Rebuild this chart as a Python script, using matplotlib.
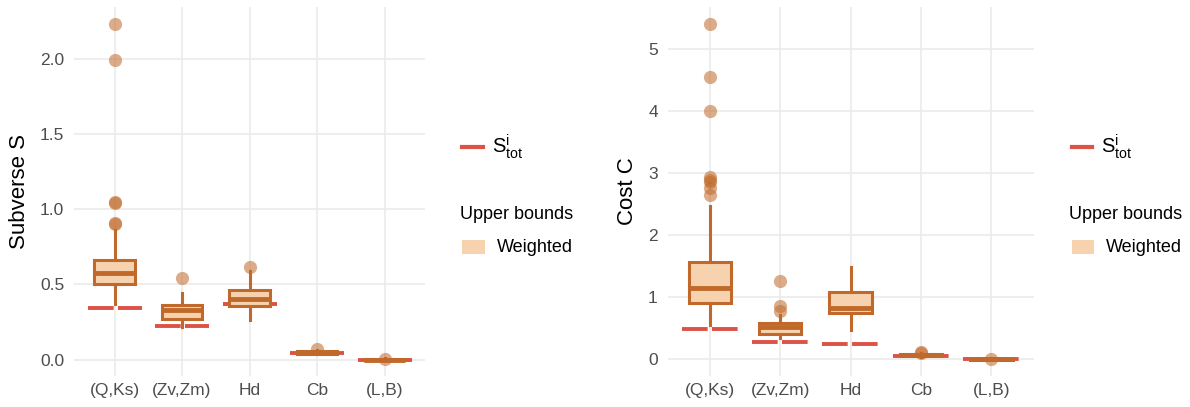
import matplotlib
matplotlib.use("Agg")
import matplotlib.pyplot as plt
from matplotlib.lines import Line2D
from matplotlib.patches import Rectangle

plt.rcParams["font.family"] = ["Liberation Sans", "DejaVu Sans"]
plt.rcParams["mathtext.fontset"] = "custom"
plt.rcParams["mathtext.rm"] = "Liberation Sans"
plt.rcParams["mathtext.it"] = "Liberation Sans"

# Categories
categorias = ["(Q,Ks)", "(Zv,Zm)", "Hd", "Cb", "(L,B)"]

# Panel izquierdo: Subverse S (resumen de boxplot)
s_q1 = [0.50, 0.27, 0.355, 0.040, -0.004]
s_med = [0.577, 0.33, 0.405, 0.050, 0.000]
s_q3 = [0.66, 0.36, 0.46, 0.058, 0.005]
s_wlo = [0.37, 0.215, 0.26, 0.035, -0.006]
s_whi = [0.86, 0.44, 0.59, 0.064, 0.007]
s_fliers = [[2.23, 1.99, 1.04, 1.045, 0.91, 0.90], [0.545], [0.615], [0.072], [0.002]]
s_tot = [0.34, 0.226, 0.366, 0.045, 0.0]

# Panel derecho: Cost C
c_q1 = [0.90, 0.40, 0.74, 0.05, -0.006]
c_med = [1.15, 0.52, 0.82, 0.065, 0.002]
c_q3 = [1.57, 0.576, 1.08, 0.08, 0.010]
c_wlo = [0.55, 0.34, 0.47, 0.035, -0.01]
c_whi = [2.47, 0.72, 1.48, 0.10, 0.015]
c_fliers = [[5.40, 4.54, 4.0, 2.94, 2.89, 2.85, 2.75, 2.65], [1.26, 0.85, 0.78], [], [0.11, 0.10], [0.005]]
c_tot = [0.48, 0.28, 0.25, 0.06, 0.0]

EDGE = "#c0692a"
FILL = "#f6d2ae"
RED = "#dc5345"
GRID = "#ebebeb"


def dibujar_panel(ax, q1, med, q3, wlo, whi, fliers, tot, ylabel, yticks, yticklabels):
    stats = []
    for i in range(len(categorias)):
        stats.append(dict(med=med[i], q1=q1[i], q3=q3[i], whislo=wlo[i],
                          whishi=whi[i], fliers=fliers[i], label=categorias[i]))
    pos = list(range(1, len(categorias) + 1))
    ax.hlines(tot, [p - 0.4 for p in pos], [p + 0.4 for p in pos], colors=RED,
              linewidth=2.8, linestyles=(0, (6.6, 1.1)), zorder=2.5, capstyle="butt")
    ax.bxp(stats, positions=pos, widths=0.6, patch_artist=True, showcaps=False,
           boxprops=dict(facecolor=FILL, edgecolor=EDGE, linewidth=2.2),
           medianprops=dict(color=EDGE, linewidth=3.5, solid_capstyle="butt"),
           whiskerprops=dict(color=EDGE, linewidth=2.2),
           flierprops=dict(marker="o", markerfacecolor=EDGE, markeredgecolor="none",
                           alpha=0.55, markersize=9.5), zorder=3)
    ax.set_xlim(0.4, 5.6)
    ax.set_yticks(yticks)
    ax.set_yticklabels(yticklabels)
    ax.set_ylabel(ylabel, fontsize=16, labelpad=7)
    ax.tick_params(axis="y", length=0, labelsize=12.5, labelcolor="#4d4d4d", pad=7)
    ax.tick_params(axis="x", length=0, labelsize=12.5, labelcolor="#4d4d4d", pad=5)
    ax.grid(True, color=GRID, linewidth=1.2, zorder=0)
    ax.set_axisbelow(True)
    for s in ax.spines.values():
        s.set_visible(False)


def leyenda(fig, x0, y_line, y_title, y_patch):
    fig.add_artist(Line2D([x0, x0 + 0.017], [y_line, y_line], transform=fig.transFigure,
                          color=RED, linewidth=3))
    fig.text(x0 + 0.025, y_line, r"$\mathrm{S}^{\mathrm{i}}_{\mathrm{tot}}$",
             fontsize=14.5, va="center", ha="left")
    fig.text(x0 - 0.002, y_title, "Upper bounds", fontsize=13, va="center", ha="left")
    fig.add_artist(Rectangle((x0, y_patch - 0.017), 0.019, 0.034, transform=fig.transFigure,
                             facecolor=FILL, edgecolor="none"))
    fig.text(x0 + 0.029, y_patch, "Weighted", fontsize=13, va="center", ha="left")


fig = plt.figure(figsize=(11.9, 4.07), dpi=100)
ax1 = fig.add_axes([0.0622, 0.076, 0.295, 0.907])
ax2 = fig.add_axes([0.561, 0.076, 0.3076, 0.907])

dibujar_panel(ax1, s_q1, s_med, s_q3, s_wlo, s_whi, s_fliers, s_tot, "Subverse S",
              [0.0, 0.5, 1.0, 1.5, 2.0], ["0.0", "0.5", "1.0", "1.5", "2.0"])
ax1.set_ylim(-0.11, 2.345)
dibujar_panel(ax2, c_q1, c_med, c_q3, c_wlo, c_whi, c_fliers, c_tot, "Cost C",
              [0, 1, 2, 3, 4, 5], ["0", "1", "2", "3", "4", "5"])
ax2.set_ylim(-0.27, 5.67)

leyenda(fig, 0.3885, 0.639, 0.472, 0.393)
leyenda(fig, 0.9005, 0.639, 0.472, 0.393)

fig.savefig("out.png", dpi=100)
